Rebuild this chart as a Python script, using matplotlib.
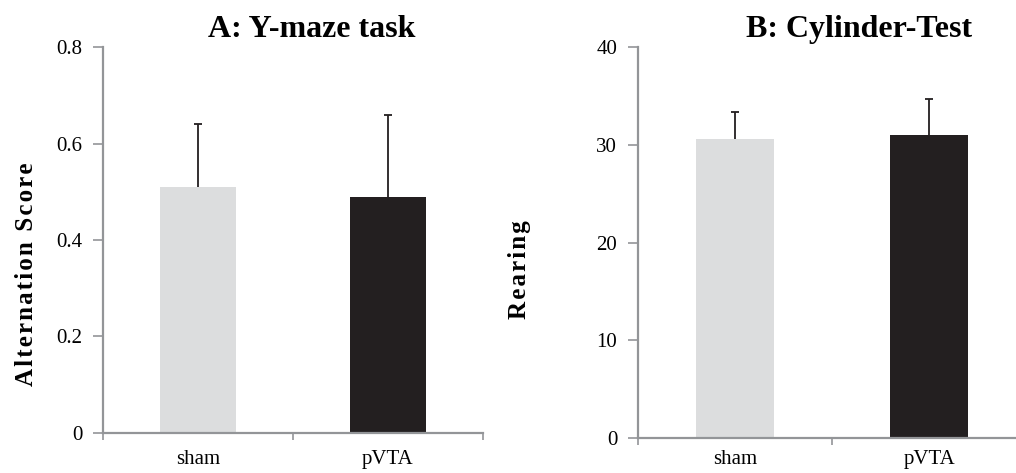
import matplotlib.pyplot as plt

plt.rcParams['font.family'] = ['Liberation Serif', 'DejaVu Serif']

# --- data ---
groups = ['sham', 'pVTA']
ymaze_mean = [0.51, 0.49]
ymaze_err = [0.13, 0.17]
cyl_mean = [30.6, 31.0]
cyl_err = [2.8, 3.7]

ymaze_ticks = [0, 0.2, 0.4, 0.6, 0.8]
ymaze_ticklabels = ['0', '0.2', '0.4', '0.6', '0.8']
cyl_ticks = [0, 10, 20, 30, 40]

bar_colors = ['#dcddde', '#231f20']
axis_gray = '#939598'


def spaced(s):
    # slight letter spacing, as in the original axis titles
    return '\u200a'.join(s)


def style_axes(ax, label_pad):
    for side in ['top', 'right']:
        ax.spines[side].set_visible(False)
    for side in ['left', 'bottom']:
        ax.spines[side].set_color(axis_gray)
        ax.spines[side].set_linewidth(1.6)
    ax.set_xlim(0, 2)
    ax.set_xticks([0, 1, 2])
    ax.set_xticklabels([])
    ax.set_xticks([0.5, 1.5], minor=True)
    ax.set_xticklabels(groups, minor=True)
    ax.tick_params(axis='x', which='major', length=5, width=1.2,
                   color=axis_gray, direction='out')
    ax.tick_params(axis='x', which='minor', length=0, labelsize=15,
                   pad=label_pad)
    ax.tick_params(axis='y', length=7, width=1.2, color=axis_gray,
                   labelsize=15, pad=8)


def draw_bars(ax, means, errs):
    x = [0.5, 1.5]
    ax.bar(x, means, width=0.4, color=bar_colors, zorder=2)
    eb = ax.errorbar(x, means, yerr=[[0, 0], errs], fmt='none',
                     ecolor='#231f20', elinewidth=1.3, capsize=3,
                     capthick=1.3, zorder=3)
    # only the upper whisker cap is drawn in the original
    eb[1][0].set_visible(False)


fig = plt.figure(figsize=(10.16, 4.73), dpi=100)

# --- A: Y-maze ---
ax1 = fig.add_axes([0.1014, 0.0846, 0.374, 0.816])
draw_bars(ax1, ymaze_mean, ymaze_err)
ax1.set_ylim(0, 0.8)
ax1.set_yticks(ymaze_ticks)
ax1.set_yticklabels(ymaze_ticklabels)
style_axes(ax1, 12)
ax1.set_ylabel(spaced('Alternation Score'), fontsize=18, fontweight='bold')
ax1.yaxis.set_label_coords(-0.172, 0.41)
ax1.set_title('A: Y-maze task', fontsize=23, fontweight='bold', x=0.55, pad=7)

# --- B: Cylinder test ---
ax2 = fig.add_axes([0.628, 0.074, 0.382, 0.8266])
draw_bars(ax2, cyl_mean, cyl_err)
ax2.set_ylim(0, 40)
ax2.set_yticks(cyl_ticks)
style_axes(ax2, 9)
ax2.set_ylabel(spaced('Rearing'), fontsize=18, fontweight='bold')
ax2.yaxis.set_label_coords(-0.277, 0.43)
ax2.set_title('B: Cylinder-Test', fontsize=23, fontweight='bold', x=0.57, pad=7)

fig.savefig('out.png', dpi=100)
